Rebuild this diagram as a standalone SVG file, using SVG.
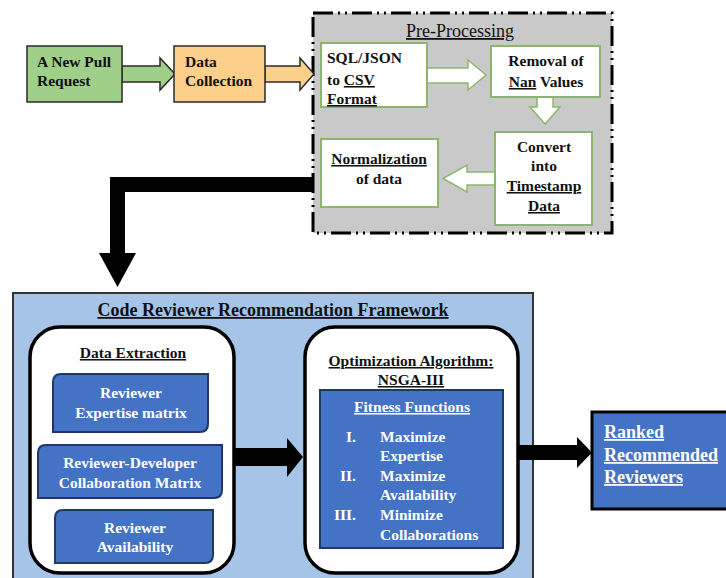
<svg xmlns="http://www.w3.org/2000/svg" width="726" height="578" viewBox="0 0 726 578">
<style>
text{font-family:"Liberation Serif","Times New Roman",serif;font-weight:bold;font-size:15.5px;fill:#111}
.w{fill:#fff}
.c{text-anchor:middle}
.u{text-decoration:underline}
.pbox{fill:#fff;stroke:#8db56f;stroke-width:2}
.blue{fill:#4472c4;stroke:#1f3864;stroke-width:2}
.round{fill:#fff;stroke:#000;stroke-width:3.5}
</style>
<rect width="726" height="578" fill="#fff"/>

<g id="preprocessing">
<rect x="313" y="13" width="299" height="220" fill="#c9c9c9" stroke="#000" stroke-width="3" stroke-dasharray="20 5 2 5 2 5"/>
<text x="460" y="37" class="c u" style="font-weight:normal;font-size:18px">Pre-Processing</text>
</g>

<g id="connectors">
<polygon points="122,66 160,66 160,58 175,74 160,90 160,82 122,82" fill="#9fcf88" stroke="#2a2a2a" stroke-width="1.5"/>
<polygon points="265,66 300,66 300,58 314,74 300,90 300,82 265,82" fill="#fcd08a" stroke="#2a2a2a" stroke-width="1.5"/>
<polygon points="427,68 468,68 468,60 486,75 468,90 468,83 427,83" fill="#fff" stroke="#8db56f" stroke-width="1.5"/>
<polygon points="537,97 553,97 553,107 560,107 545,124 530,107 537,107" fill="#fff" stroke="#8db56f" stroke-width="1.5"/>
<polygon points="495,172 467,172 467,165 443,178.5 467,192 467,185 495,185" fill="#fff" stroke="#8db56f" stroke-width="1.5"/>
<polygon points="313,177 110,177 110,253 99,253 117.5,287 136,253 125,253 125,192 313,192" fill="#000"/>
</g>

<g id="new-pull-request">
<rect x="27" y="46" width="95" height="56" fill="#9fcf88" stroke="#2a2a2a" stroke-width="1.5"/>
<text x="37" y="67">A New Pull</text>
<text x="37" y="86">Request</text>
</g>

<g id="data-collection">
<rect x="174" y="46" width="91" height="56" fill="#fcd08a" stroke="#2a2a2a" stroke-width="1.5"/>
<text x="185" y="67">Data</text>
<text x="185" y="86">Collection</text>
</g>

<g id="sql-json">
<rect x="321" y="43" width="106" height="64" class="pbox"/>
<text x="327" y="63">SQL/JSON</text>
<text x="327" y="85">to <tspan class="u">CSV</tspan></text>
<text x="327" y="104" class="u">Format</text>
</g>

<g id="removal-nan">
<rect x="491" y="46" width="109" height="51" class="pbox"/>
<text x="546" y="66" class="c">Removal of</text>
<text x="546" y="87" class="c"><tspan class="u">Nan</tspan> Values</text>
</g>

<g id="convert-timestamp">
<rect x="495" y="132" width="97" height="93" class="pbox"/>
<text x="544" y="152" class="c">Convert</text>
<text x="544" y="171" class="c">into</text>
<text x="544" y="191" class="c u">Timestamp</text>
<text x="544" y="211" class="c u">Data</text>
</g>

<g id="normalization">
<rect x="321" y="139" width="117" height="68" class="pbox"/>
<text x="379" y="164" class="c u">Normalization</text>
<text x="379" y="184" class="c">of data</text>
</g>

<g id="framework">
<rect x="13" y="293" width="520" height="300" fill="#a6c4e8" stroke="#333" stroke-width="2"/>
<text x="273" y="316" class="c u" style="font-size:18px">Code Reviewer Recommendation Framework</text>
</g>

<g id="data-extraction">
<rect x="30" y="327" width="204" height="246" rx="30" class="round"/>
<text x="133" y="358" class="c u">Data Extraction</text>
</g>

<g id="expertise-matrix">
<path d="M61,374 H208 V424 Q208,432 200,432 H53 V382 Q53,374 61,374 Z" class="blue"/>
<text x="131" y="398" class="c w">Reviewer</text>
<text x="131" y="418" class="c w">Expertise matrix</text>
</g>

<g id="collaboration-matrix">
<path d="M46,445 H222 V490 Q222,498 214,498 H38 V453 Q38,445 46,445 Z" class="blue"/>
<text x="130" y="468" class="c w">Reviewer-Developer</text>
<text x="130" y="488" class="c w">Collaboration Matrix</text>
</g>

<g id="availability">
<path d="M63,510 H213 V555 Q213,563 205,563 H55 V518 Q55,510 63,510 Z" class="blue"/>
<text x="135" y="533" class="c w">Reviewer</text>
<text x="135" y="552" class="c w">Availability</text>
</g>

<g id="connectors-2">
<polygon points="234,448 287,448 287,438 303,457 287,477 287,466 234,466" fill="#000"/>
<polygon points="518,445 577,445 577,437 592,452.5 577,468 577,460 518,460" fill="#000"/>
</g>

<g id="optimization">
<rect x="305" y="327" width="213" height="246" rx="30" class="round"/>
<text x="411" y="366" class="c u">Optimization Algorithm:</text>
<text x="411" y="385" class="c u">NSGA-III</text>
</g>

<g id="fitness-functions">
<rect x="320" y="390" width="183" height="158" class="blue" stroke="#1a2a4a"/>
<text x="412" y="412" class="c w u">Fitness Functions</text>
<text x="356" y="442" class="w" text-anchor="end">I.</text>
<text x="380" y="442" class="w">Maximize</text>
<text x="380" y="461" class="w">Expertise</text>
<text x="356" y="481" class="w" text-anchor="end">II.</text>
<text x="380" y="481" class="w">Maximize</text>
<text x="380" y="500" class="w">Availability</text>
<text x="356" y="520" class="w" text-anchor="end">III.</text>
<text x="380" y="520" class="w">Minimize</text>
<text x="380" y="540" class="w">Collaborations</text>
</g>

<g id="ranked-reviewers">
<rect x="592" y="412" width="140" height="97" fill="#4472c4" stroke="#000" stroke-width="3"/>
<text x="604" y="438" class="w u" style="font-size:18px">Ranked</text>
<text x="604" y="461" class="w u" style="font-size:18px">Recommended</text>
<text x="604" y="483" class="w u" style="font-size:18px">Reviewers</text>
</g>
</svg>
